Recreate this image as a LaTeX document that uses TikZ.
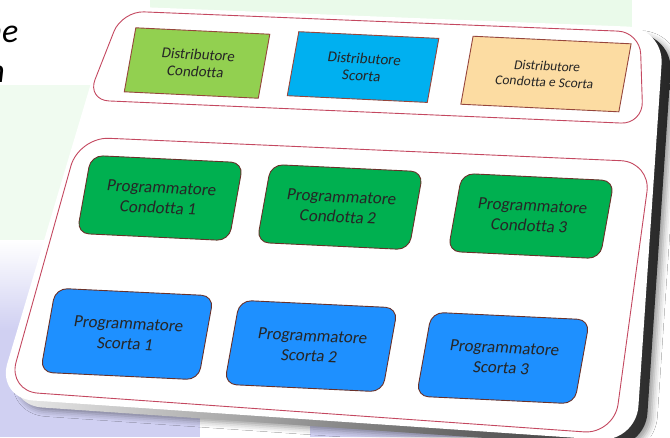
\documentclass[tikz,border=0pt]{standalone}
\usepackage{fontspec}
\setmainfont{Carlito}[Ligatures=NoCommon]
\usetikzlibrary{positioning,shadows.blur}

\definecolor{frameRed}{RGB}{196,72,96}
\definecolor{boxEdge}{RGB}{150,70,60}
\definecolor{distGreen}{RGB}{146,208,80}
\definecolor{distBlue}{RGB}{0,176,240}
\definecolor{distYellow}{RGB}{252,220,162}
\definecolor{progGreen}{RGB}{0,176,80}
\definecolor{progBlue}{RGB}{30,144,255}
\definecolor{mint}{RGB}{234,250,234}
\definecolor{lavender}{RGB}{208,208,242}

\tikzset{
  group/.style={draw=frameRed, line width=0.9pt, rounded corners=22pt},
  distbox/.style={draw=boxEdge, line width=0.9pt, minimum height=64pt, inner sep=2pt,
    align=center, text=black!85, font=\fontsize{15}{17}\selectfont},
  progbox/.style={draw=boxEdge!70!black, line width=0.9pt, rounded corners=12pt,
    align=center, text=black!85, font=\fontsize{17}{20}\selectfont},
  condbox/.style={progbox, fill=progGreen, minimum width=152pt, minimum height=78pt},
  scortabox/.style={progbox, fill=progBlue, minimum width=158pt, minimum height=84pt},
}

\begin{document}
\begin{tikzpicture}[x=1pt, y=-1pt]
  \useasboundingbox (0,0) rectangle (670,437);

  % Background
  \fill[white] (0,0) rectangle (670,437);
  \fill[mint] (150,0) rectangle (632,40);
  \fill[mint!70] (0,85) rectangle (110,250);
  \shade[top color=white, bottom color=lavender] (0,240) rectangle (200,330);
  \fill[lavender] (0,330) rectangle (200,437);
  \fill[lavender] (310,426) rectangle (565,437);

  % Text cut by the left edge
  \node[anchor=base east, inner sep=0pt, font=\fontsize{34}{40}\itshape\selectfont] (txt1) at (18.5,42) {ne};
  \node[anchor=base east, inner sep=0pt, font=\fontsize{34}{40}\itshape\selectfont] (txt2) at (5,82) {n};

  % Card
  \shade[rounded corners=36pt, left color=gray!15, right color=black!85,
    blur shadow={shadow xshift=4pt, shadow yshift=-3pt, shadow blur radius=6pt}]
    (123,13) -- (673,35) -- (645,449) -- (6,405) -- cycle;
  \fill[white, rounded corners=36pt] (114,6) -- (664,28) -- (636,442) -- (-3,398) -- cycle;

  % Groups
  \draw[group] (122,11) -- (640,32) -- (643,124) -- (87,100) -- cycle;
  \draw[group, rounded corners=30pt] (79,137) -- (651,162) -- (614,434) -- (8,391) -- cycle;

  % Boxes
  \begin{scope}[cm={1,-0.048,0.18,1,(0,0)}, every node/.append style={transform shape}]
    \node[distbox, fill=distGreen, minimum width=134pt] (d1) at (206.6,53.1) {Distributore\\Condotta};
    \node[distbox, fill=distBlue, minimum width=140pt] (d2) at (371.9,49.2) {Distributore\\Scorta};
    \node[distbox, fill=distYellow, minimum width=158pt, minimum height=68pt,
      font=\fontsize{13.5}{16}\selectfont] (d3) at (554.5,47.4) {Distributore\\Condotta e Scorta};

    \node[condbox] (c1) at (194,188.7) {Programmatore\\Condotta 1};
    \node[condbox] (c2) at (374,189.1) {Programmatore\\Condotta 2};
    \node[condbox] (c3) at (565,188.9) {Programmatore\\Condotta 3};

    \node[scortabox] (s1) at (185.5,325.1) {Programmatore\\Scorta 1};
    \node[scortabox] (s2) at (370.1,328.3) {Programmatore\\Scorta 2};
    \node[scortabox] (s3) at (562.6,331) {Programmatore\\Scorta 3};
  \end{scope}
\end{tikzpicture}
\end{document}
